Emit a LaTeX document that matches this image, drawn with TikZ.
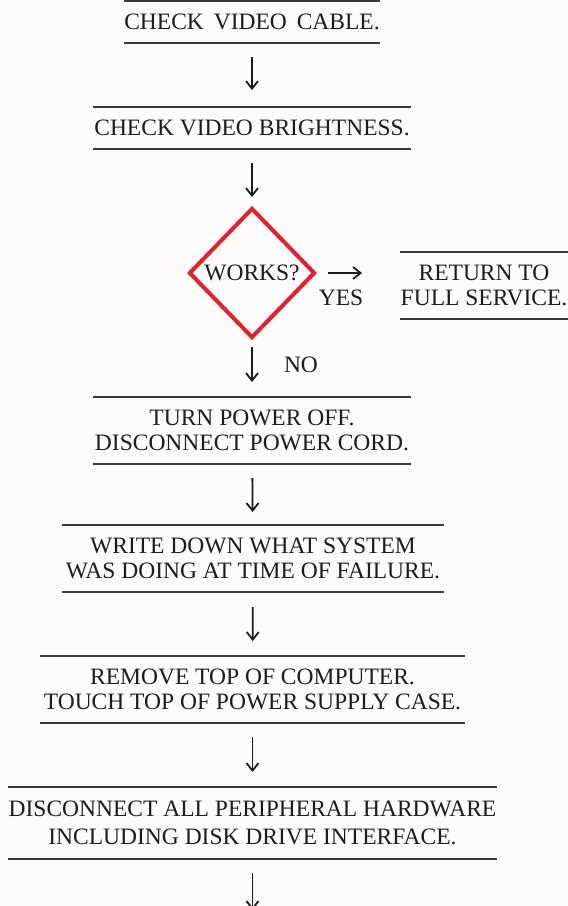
\documentclass[tikz,border=0pt]{standalone}
\usepackage{fontspec}
\setmainfont{Liberation Serif}
\usetikzlibrary{shapes.geometric,arrows.meta}
\definecolor{ink}{HTML}{1C1C1C}
\definecolor{rulec}{HTML}{3A3A3A}
\definecolor{wred}{HTML}{E3202B}
\definecolor{paper}{HTML}{FDFCFA}
\newcommand{\boxfont}{\fontsize{23.5}{24.5}\selectfont}
\newcommand{\wsp}{\hspace{0.42em}}
\begin{document}
\begin{tikzpicture}[x=1pt,y=-1pt,
  stepbox/.style={inner sep=0pt, outer sep=0pt, align=center, font=\boxfont, text=ink},
  rulepen/.style={draw=rulec, line width=1.3pt},
  flowarrow/.style={draw=ink, line width=1.8pt, -{Straight Barb[length=7.5pt,width=12pt,line width=1.8pt]}},
  labeltext/.style={inner sep=0pt, font=\boxfont, text=ink},
  decision/.style={diamond, draw=wred, line width=4pt, minimum width=126pt, minimum height=130pt, inner sep=0pt, font=\boxfont, text=ink}
]
\fill[paper] (0,0) rectangle (568,906);
\useasboundingbox (0,0) rectangle (568,906);

\node[stepbox, minimum width=233pt, minimum height=42pt] (b1) at (252,22) {CHECK\wsp VIDEO\wsp CABLE.};
\node[stepbox, minimum width=318pt, minimum height=42pt] (b2) at (252,128) {CHECK VIDEO BRIGHTNESS.};
\node[decision] (d) at (252,273) {WORKS?};
\node[stepbox, minimum width=168pt, minimum height=67pt] (ret) at (484,285.5) {RETURN TO\\FULL SERVICE.};
\node[labeltext] (yes) at (341,298) {YES};
\node[labeltext] (no) at (301,365) {NO};
\node[stepbox, minimum width=318pt, minimum height=67pt] (b3) at (252,430.5) {TURN POWER OFF.\\DISCONNECT POWER CORD.};
\node[stepbox, minimum width=382pt, minimum height=67pt] (b4) at (253,558.5) {WRITE DOWN WHAT SYSTEM\\WAS DOING AT TIME OF FAILURE.};
\node[stepbox, minimum width=425pt, minimum height=67pt] (b5) at (252.5,689.5) {REMOVE TOP OF COMPUTER.\\TOUCH TOP OF POWER SUPPLY CASE.};
\node[stepbox, minimum width=489pt, minimum height=72pt] (b6) at (252.5,823) {DISCONNECT ALL PERIPHERAL HARDWARE\\[3pt]INCLUDING DISK DRIVE INTERFACE.};
\coordinate (tail) at (252.5,910);

\foreach \n in {b1,b2,ret,b3,b4,b5,b6}
  \draw[rulepen] (\n.north west) -- (\n.north east) (\n.south west) -- (\n.south east);

\draw[flowarrow, shorten <=14pt, shorten >=17pt] (b1) -- (b2);
\draw[flowarrow, shorten <=14pt, shorten >=9pt] (b2) -- (d);
\draw[flowarrow, shorten <=11pt, shorten >=38pt] (d) -- (ret.west |- d);
\draw[flowarrow, shorten <=7pt, shorten >=15pt] (d) -- (b3);
\draw[flowarrow, shorten <=14pt, shorten >=13pt] (b3) -- (b4);
\draw[flowarrow, shorten <=15pt, shorten >=15pt] (b4) -- (b5);
\draw[flowarrow, shorten <=14pt, shorten >=15pt] (b5) -- (b6);
\draw[flowarrow, shorten <=14pt] (b6) -- (tail);
\end{tikzpicture}
\end{document}
